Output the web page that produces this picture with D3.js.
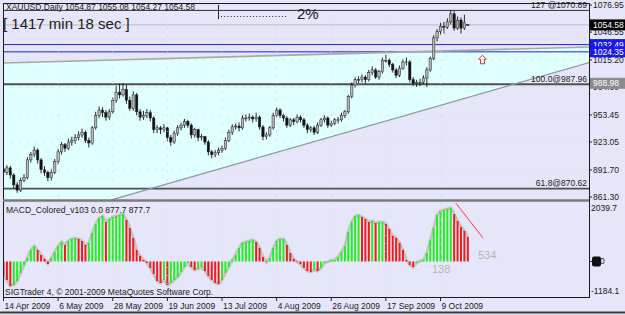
<!DOCTYPE html>
<html lang="en">
<head>
    <meta charset="UTF-8">
    <script src="https://d3js.org/d3.v7.min.js"></script>
    <title>XAUUSD Daily</title>
    <style>
        body {
            margin: 0;
            background: #e6e6fa;
        }

        svg {
            display: block;
            font-family: "Liberation Sans", Arial, sans-serif;
        }

        .small {
            font-size: 8.5px;
            fill: #202020;
        }
    </style>
</head>
<body>
<div id="chart"></div>
<script>
    /*------------------- Data --------------------*/
    const dateLabels = ["14 Apr 2009", "6 May 2009", "28 May 2009", "19 Jun 2009", "13 Jul 2009",
        "4 Aug 2009", "26 Aug 2009", "17 Sep 2009", "9 Oct 2009"];
    const dateBars = [0, 16, 32, 48, 64, 80, 96, 112, 128];

    const opens = [
        893, 889, 894, 886, 875, 869, 880, 883, 903, 909,
        914, 903, 892, 889, 883, 889, 901, 912, 920, 916,
        923, 925, 928, 931, 934, 925, 922, 939, 953, 959,
        956, 951, 957, 970, 979, 976, 982, 970, 961, 976,
        957, 951, 953, 956, 950, 937, 939, 937, 939, 928,
        923, 933, 939, 942, 946, 942, 931, 937, 928, 929,
        923, 912, 909, 911, 914, 916, 925, 934, 940, 941,
        939, 950, 950, 951, 949, 951, 940, 929, 931, 939,
        953, 959, 953, 950, 942, 948, 946, 951, 948, 942,
        937, 939, 934, 942, 948, 950, 942, 944, 948, 948,
        953, 957, 974, 987, 993, 993, 996, 993, 1001, 1004,
        996, 1002, 1015, 1015, 1010, 1004, 998, 1006, 1013, 1013,
        993, 989, 990, 990, 995, 1004, 1017, 1040, 1047, 1053,
        1052, 1058, 1067, 1051, 1060, 1051, 1054.87];
    const highs = [
        896, 897, 896, 888, 878, 883, 887, 906, 912, 918,
        916, 905, 896, 891, 893, 904, 915, 923, 922, 927,
        929, 932, 935, 938, 936, 928, 941, 957, 963, 962,
        959, 960, 973, 986, 988, 989, 987, 974, 980, 978,
        960, 958, 960, 959, 952, 942, 941, 943, 940, 931,
        936, 942, 945, 949, 948, 944, 939, 938, 932, 930,
        925, 914, 914, 917, 919, 928, 937, 943, 944, 945,
        953, 954, 955, 953, 956, 953, 942, 934, 941, 956,
        962, 961, 955, 952, 950, 950, 954, 953, 950, 944,
        941, 941, 945, 950, 953, 952, 947, 950, 951, 956,
        959, 976, 990, 996, 997, 999, 998, 1004, 1008, 1006,
        1004, 1018, 1021, 1017, 1012, 1006, 1009, 1016, 1018, 1015,
        996, 993, 994, 998, 1007, 1019, 1043, 1050, 1057, 1058,
        1062, 1071, 1070, 1064, 1063, 1066, 1055.08];
    const lows = [
        885, 886, 882, 871, 866, 867, 878, 881, 900, 906,
        899, 888, 885, 879, 880, 887, 898, 909, 912, 914,
        919, 921, 925, 928, 922, 917, 920, 937, 950, 951,
        947, 948, 955, 967, 972, 974, 966, 958, 958, 953,
        947, 948, 950, 946, 933, 933, 932, 934, 924, 919,
        921, 930, 936, 939, 939, 927, 928, 924, 925, 920,
        908, 905, 906, 908, 911, 914, 923, 931, 937, 935,
        937, 946, 947, 945, 946, 937, 925, 926, 929, 937,
        951, 950, 946, 939, 940, 942, 944, 945, 939, 933,
        934, 931, 932, 940, 945, 939, 940, 942, 944, 946,
        950, 955, 972, 984, 989, 990, 989, 991, 998, 994,
        993, 1000, 1012, 1007, 1001, 995, 996, 1004, 1009, 990,
        986, 985, 986, 988, 985, 1002, 1015, 1036, 1044, 1045,
        1050, 1055, 1048, 1049, 1045, 1049, 1054.27];
    const closes = [
        889, 894, 886, 875, 869, 880, 883, 903, 909, 914,
        903, 892, 889, 883, 889, 901, 912, 920, 916, 923,
        925, 928, 931, 934, 925, 922, 939, 953, 959, 956,
        951, 957, 970, 979, 976, 982, 970, 961, 976, 957,
        951, 953, 956, 950, 937, 939, 937, 939, 928, 923,
        933, 939, 942, 946, 942, 931, 937, 928, 929, 923,
        912, 909, 911, 914, 916, 925, 934, 940, 941, 939,
        950, 950, 951, 949, 951, 940, 929, 931, 939, 953,
        959, 953, 950, 942, 948, 946, 951, 948, 942, 937,
        939, 934, 942, 948, 950, 942, 944, 948, 948, 953,
        957, 974, 987, 993, 993, 996, 993, 1001, 1004, 996,
        1002, 1015, 1015, 1010, 1004, 998, 1006, 1013, 1013, 993,
        989, 990, 990, 995, 1004, 1017, 1040, 1047, 1053, 1052,
        1058, 1067, 1051, 1060, 1051, 1057, 1054.58];

    const macdHist = [
        -463, -634, -840, -806, -669, -394, -120, 120, 394, 531,
        394, 223, 86, -86, 120, 326, 531, 669, 566, 703,
        772, 806, 772, 703, 566, 634, 977, 1286, 1492, 1560,
        1354, 1457, 1526, 1560, 1594, 1629, 1423, 1149, 806, 394,
        189, 51, -51, -223, -429, -669, -737, -634, -806, -737,
        -634, -531, -360, -189, -51, -189, -291, -257, -189, -326,
        -497, -634, -737, -772, -634, -394, -189, 51, 223, 463,
        634, 669, 703, 737, 669, 463, 154, -17, 120, 463,
        703, 772, 772, 566, 291, 86, -17, -86, -223, -326,
        -360, -291, -326, -223, -51, -17, 51, 51, 154, 326,
        531, 1012, 1354, 1560, 1594, 1526, 1457, 1354, 1389, 1320,
        1354, 1354, 1286, 1114, 874, 806, 634, 394, 51, -120,
        -189, -51, 17, 51, 291, 737, 1149, 1594, 1732, 1766,
        1800, 1835, 1629, 1389, 1183, 1046, 840];

    const priceTicks = [1076.95, 1046.55, 1015.20, 984.80, 953.45, 923.05, 891.70, 861.30];
    const macdTicks = [2039.7, -1184.1];

    const fiboPrices = [1070.89, 987.96, 870.62];
    const fiboLabels = ["127 @1070.89", "100.0@987.96", "61.8@870.62"];
    const bluePrices = [1032.49, 1024.35];
    const bidPrice = 1054.58;
    const markerPrice = 988.98;

    // trendlines as [bar, price] end points
    const upperLine = [[0, 1011.8], [171.6, 1029.8]];
    const lowerLine = [[31.6, 858.0], [171.6, 1012.4]];
    const macdLine = [[132.5, 2000], [140.5, 800]];

    /*------------------- Layout --------------------*/
    const width = 625, height = 315;
    const left = 3, right = 589;
    const mainTop = 3, mainBottom = 200;
    const macdTop = 202, macdBottom = 297;

    const x = d3.scaleLinear().domain([0, 128]).range([3.5, 440.5]);
    const y = d3.scaleLinear().domain([861.30, 1076.95]).range([197, 5]);
    const ym = d3.scaleLinear().domain([-1184.1, 2039.7]).range([296, 202]);

    const svg = d3.select("#chart").append("svg")
        .attr("width", width)
        .attr("height", height);

    svg.append("rect").attr("width", width).attr("height", height).attr("fill", "#e6e6fa");

    const defs = svg.append("defs");
    defs.append("clipPath").attr("id", "clipMain").append("rect")
        .attr("x", left).attr("y", mainTop).attr("width", right - left).attr("height", mainBottom - mainTop);
    defs.append("clipPath").attr("id", "clipMacd").append("rect")
        .attr("x", left).attr("y", macdTop).attr("width", right - left).attr("height", macdBottom - macdTop);

    const main = svg.append("g").attr("clip-path", "url(#clipMain)");
    const macd = svg.append("g").attr("clip-path", "url(#clipMacd)");

    /*------------------- Channel fill --------------------*/
    const lineAt = (ln, bar) => ln[0][1] + (ln[1][1] - ln[0][1]) * (bar - ln[0][0]) / (ln[1][0] - ln[0][0]);
    const channel = [
        [x(upperLine[0][0]), y(upperLine[0][1])],
        [x(upperLine[1][0]), y(upperLine[1][1])],
        [x(lowerLine[1][0]), y(lowerLine[1][1])],
        [x(lowerLine[0][0]), y(lowerLine[0][1])],
        [x(0), y(lowerLine[0][1])]
    ];
    main.append("path")
        .attr("d", "M" + channel.join("L") + "Z")
        .attr("fill", "#e0ffff");

    // dotted grid
    const grid = svg.append("g").attr("stroke", "#e2c6a6").attr("stroke-dasharray", "1,7").attr("opacity", 0.8);
    priceTicks.forEach(p => grid.append("line")
        .attr("x1", left).attr("x2", right).attr("y1", y(p)).attr("y2", y(p)));
    dateBars.forEach(b => grid.append("line")
        .attr("x1", x(b)).attr("x2", x(b)).attr("y1", mainTop).attr("y2", macdBottom));

    /*------------------- Level lines --------------------*/
    main.append("line")
        .attr("x1", left).attr("x2", right).attr("y1", y(bidPrice)).attr("y2", y(bidPrice))
        .attr("stroke", "#c4c4c4").attr("stroke-width", 1.2);

    bluePrices.forEach(p => main.append("line")
        .attr("x1", left).attr("x2", right).attr("y1", y(p)).attr("y2", y(p))
        .attr("stroke", "#2020d0").attr("stroke-width", 1));

    fiboPrices.forEach((p, i) => {
        main.append("line")
            .attr("x1", left).attr("x2", right).attr("y1", y(p)).attr("y2", y(p))
            .attr("stroke", i === 0 ? "#303030" : "#505050")
            .attr("stroke-width", i === 0 ? 1 : 1.8);
        svg.append("text").attr("class", "small")
            .attr("x", right - 2).attr("y", y(p) - 2.5)
            .attr("text-anchor", "end")
            .text(fiboLabels[i]);
    });

    // trendlines
    [upperLine, lowerLine].forEach((ln, i) => main.append("line")
        .attr("x1", x(ln[0][0])).attr("y1", y(ln[0][1]))
        .attr("x2", x(ln[1][0])).attr("y2", y(ln[1][1]))
        .attr("stroke", i === 0 ? "#a8a8a8" : "#8a9a9a")
        .attr("stroke-width", i === 0 ? 1.6 : 1.2));

    /*------------------- Candles --------------------*/
    const bars = d3.range(closes.length);
    main.selectAll(".wick").data(bars).enter().append("line")
        .attr("x1", i => x(i)).attr("x2", i => x(i))
        .attr("y1", i => y(highs[i])).attr("y2", i => y(lows[i]))
        .attr("stroke", "#111").attr("stroke-width", 0.9);
    main.selectAll(".body").data(bars).enter().append("rect")
        .attr("x", i => x(i) - 1.2)
        .attr("width", 2.4)
        .attr("y", i => y(Math.max(opens[i], closes[i])))
        .attr("height", i => Math.max(0.8, Math.abs(y(opens[i]) - y(closes[i]))))
        .attr("fill", i => closes[i] >= opens[i] ? "#b8b8b8" : "#111")
        .attr("stroke", "#222").attr("stroke-width", 0.5);

    // red up arrow
    const ax = x(140.3), ay = y(1020.5);
    main.append("path")
        .attr("d", `M${ax},${ay} l4,4 h-2 v4.5 h-4 v-4.5 h-2 z`)
        .attr("fill", "none").attr("stroke", "#e02020").attr("stroke-width", 0.9);

    /*------------------- MACD --------------------*/
    macd.append("path")
        .datum(macdHist)
        .attr("d", d3.line().x((d, i) => x(i)).y(d => ym(d)))
        .attr("fill", "none").attr("stroke", "#c4c4c4").attr("stroke-width", 3);
    macd.selectAll(".hist").data(macdHist).enter().append("rect")
        .attr("x", (d, i) => x(i) - 1)
        .attr("width", 2)
        .attr("y", d => Math.min(ym(d), ym(0)))
        .attr("height", d => Math.abs(ym(d) - ym(0)))
        .attr("fill", (d, i) => i > 0 && d >= macdHist[i - 1] ? "#22ee22" : "#ee1c1c");
    macd.append("line")
        .attr("x1", x(macdLine[0][0])).attr("y1", ym(macdLine[0][1]))
        .attr("x2", x(macdLine[1][0])).attr("y2", ym(macdLine[1][1]))
        .attr("stroke", "#f04040").attr("stroke-width", 1);
    macd.append("text").attr("x", 432).attr("y", 273)
        .attr("font-size", 11).attr("fill", "#b4b4b4").text("138");
    macd.append("text").attr("x", 478).attr("y", 259)
        .attr("font-size", 11).attr("fill", "#b4b4b4").text("534");

    /*------------------- Frames --------------------*/
    svg.append("rect")
        .attr("x", left + 0.5).attr("y", mainTop + 0.5)
        .attr("width", right - left).attr("height", macdBottom - mainTop)
        .attr("fill", "none").attr("stroke", "#1a1a1a");
    svg.append("line")
        .attr("x1", left).attr("x2", right).attr("y1", 200.5).attr("y2", 200.5)
        .attr("stroke", "#7a7a7a").attr("stroke-width", 2.5);
    svg.append("line")
        .attr("x1", 0).attr("x2", width).attr("y1", 312.5).attr("y2", 312.5)
        .attr("stroke", "#3a3a3a").attr("stroke-width", 2);

    /*------------------- Right axis --------------------*/
    priceTicks.forEach(p => {
        svg.append("line").attr("x1", right).attr("x2", right + 3)
            .attr("y1", y(p)).attr("y2", y(p)).attr("stroke", "#222");
        svg.append("text").attr("class", "small")
            .attr("x", right + 4).attr("y", y(p) + 3).text(p.toFixed(2));
    });

    const priceBox = (p, fill) => {
        svg.append("rect").attr("x", right + 1).attr("y", y(p) - 5.5)
            .attr("width", width - right).attr("height", 11).attr("fill", fill);
        svg.append("text").attr("class", "small").style("fill", "#fff")
            .attr("x", right + 4).attr("y", y(p) + 3).text(p.toFixed(2));
    };
    priceBox(bidPrice, "#000");
    bluePrices.forEach(p => priceBox(p, "#1818e8"));
    priceBox(markerPrice, "#8c8c8c");

    macdTicks.forEach((v, i) => svg.append("text").attr("class", "small")
        .attr("x", right + 2).attr("y", i === 0 ? ym(v) + 9 : ym(v) - 2).text(v.toFixed(1)));
    svg.append("line").attr("x1", right).attr("x2", right + 3)
        .attr("y1", ym(0)).attr("y2", ym(0)).attr("stroke", "#222");
    svg.append("rect").attr("x", right + 3).attr("y", ym(0) - 5)
        .attr("width", 9).attr("height", 10).attr("rx", 2).attr("fill", "#111");
    svg.append("text").attr("class", "small")
        .attr("x", right + 11).attr("y", ym(0) + 3).text("0");

    /*------------------- Date axis --------------------*/
    dateBars.forEach((b, i) => {
        svg.append("line").attr("x1", x(b)).attr("x2", x(b))
            .attr("y1", macdBottom).attr("y2", macdBottom + 4).attr("stroke", "#222");
        svg.append("text").attr("class", "small")
            .attr("x", x(b) + 1).attr("y", 309).text(dateLabels[i]);
    });

    /*------------------- Captions --------------------*/
    svg.append("text").attr("class", "small").attr("x", 6).attr("y", 10)
        .text("XAUUSD.Daily  1054.87 1055.08 1054.27 1054.58");
    svg.append("text").attr("x", 3).attr("y", 29)
        .attr("font-size", 15).attr("fill", "#202020").text("[ 1417 min 18 sec ]");

    svg.append("line").attr("x1", 218.5).attr("x2", 218.5).attr("y1", 5).attr("y2", 19)
        .attr("stroke", "#222");
    svg.append("line").attr("x1", 221).attr("x2", 288).attr("y1", 16.5).attr("y2", 16.5)
        .attr("stroke", "#222").attr("stroke-dasharray", "1,2.2");
    svg.append("text").attr("x", 297).attr("y", 19)
        .attr("font-size", 15).attr("fill", "#202020").text("2%");

    svg.append("text").attr("class", "small").attr("x", 6).attr("y", 213)
        .text("MACD_Colored_v103 0.0 877.7 877.7");
    svg.append("text").attr("class", "small").attr("x", 5).attr("y", 295)
        .text("SIGTrader 4, © 2001-2009 MetaQuotes Software Corp.");
</script>
</body>
</html>
